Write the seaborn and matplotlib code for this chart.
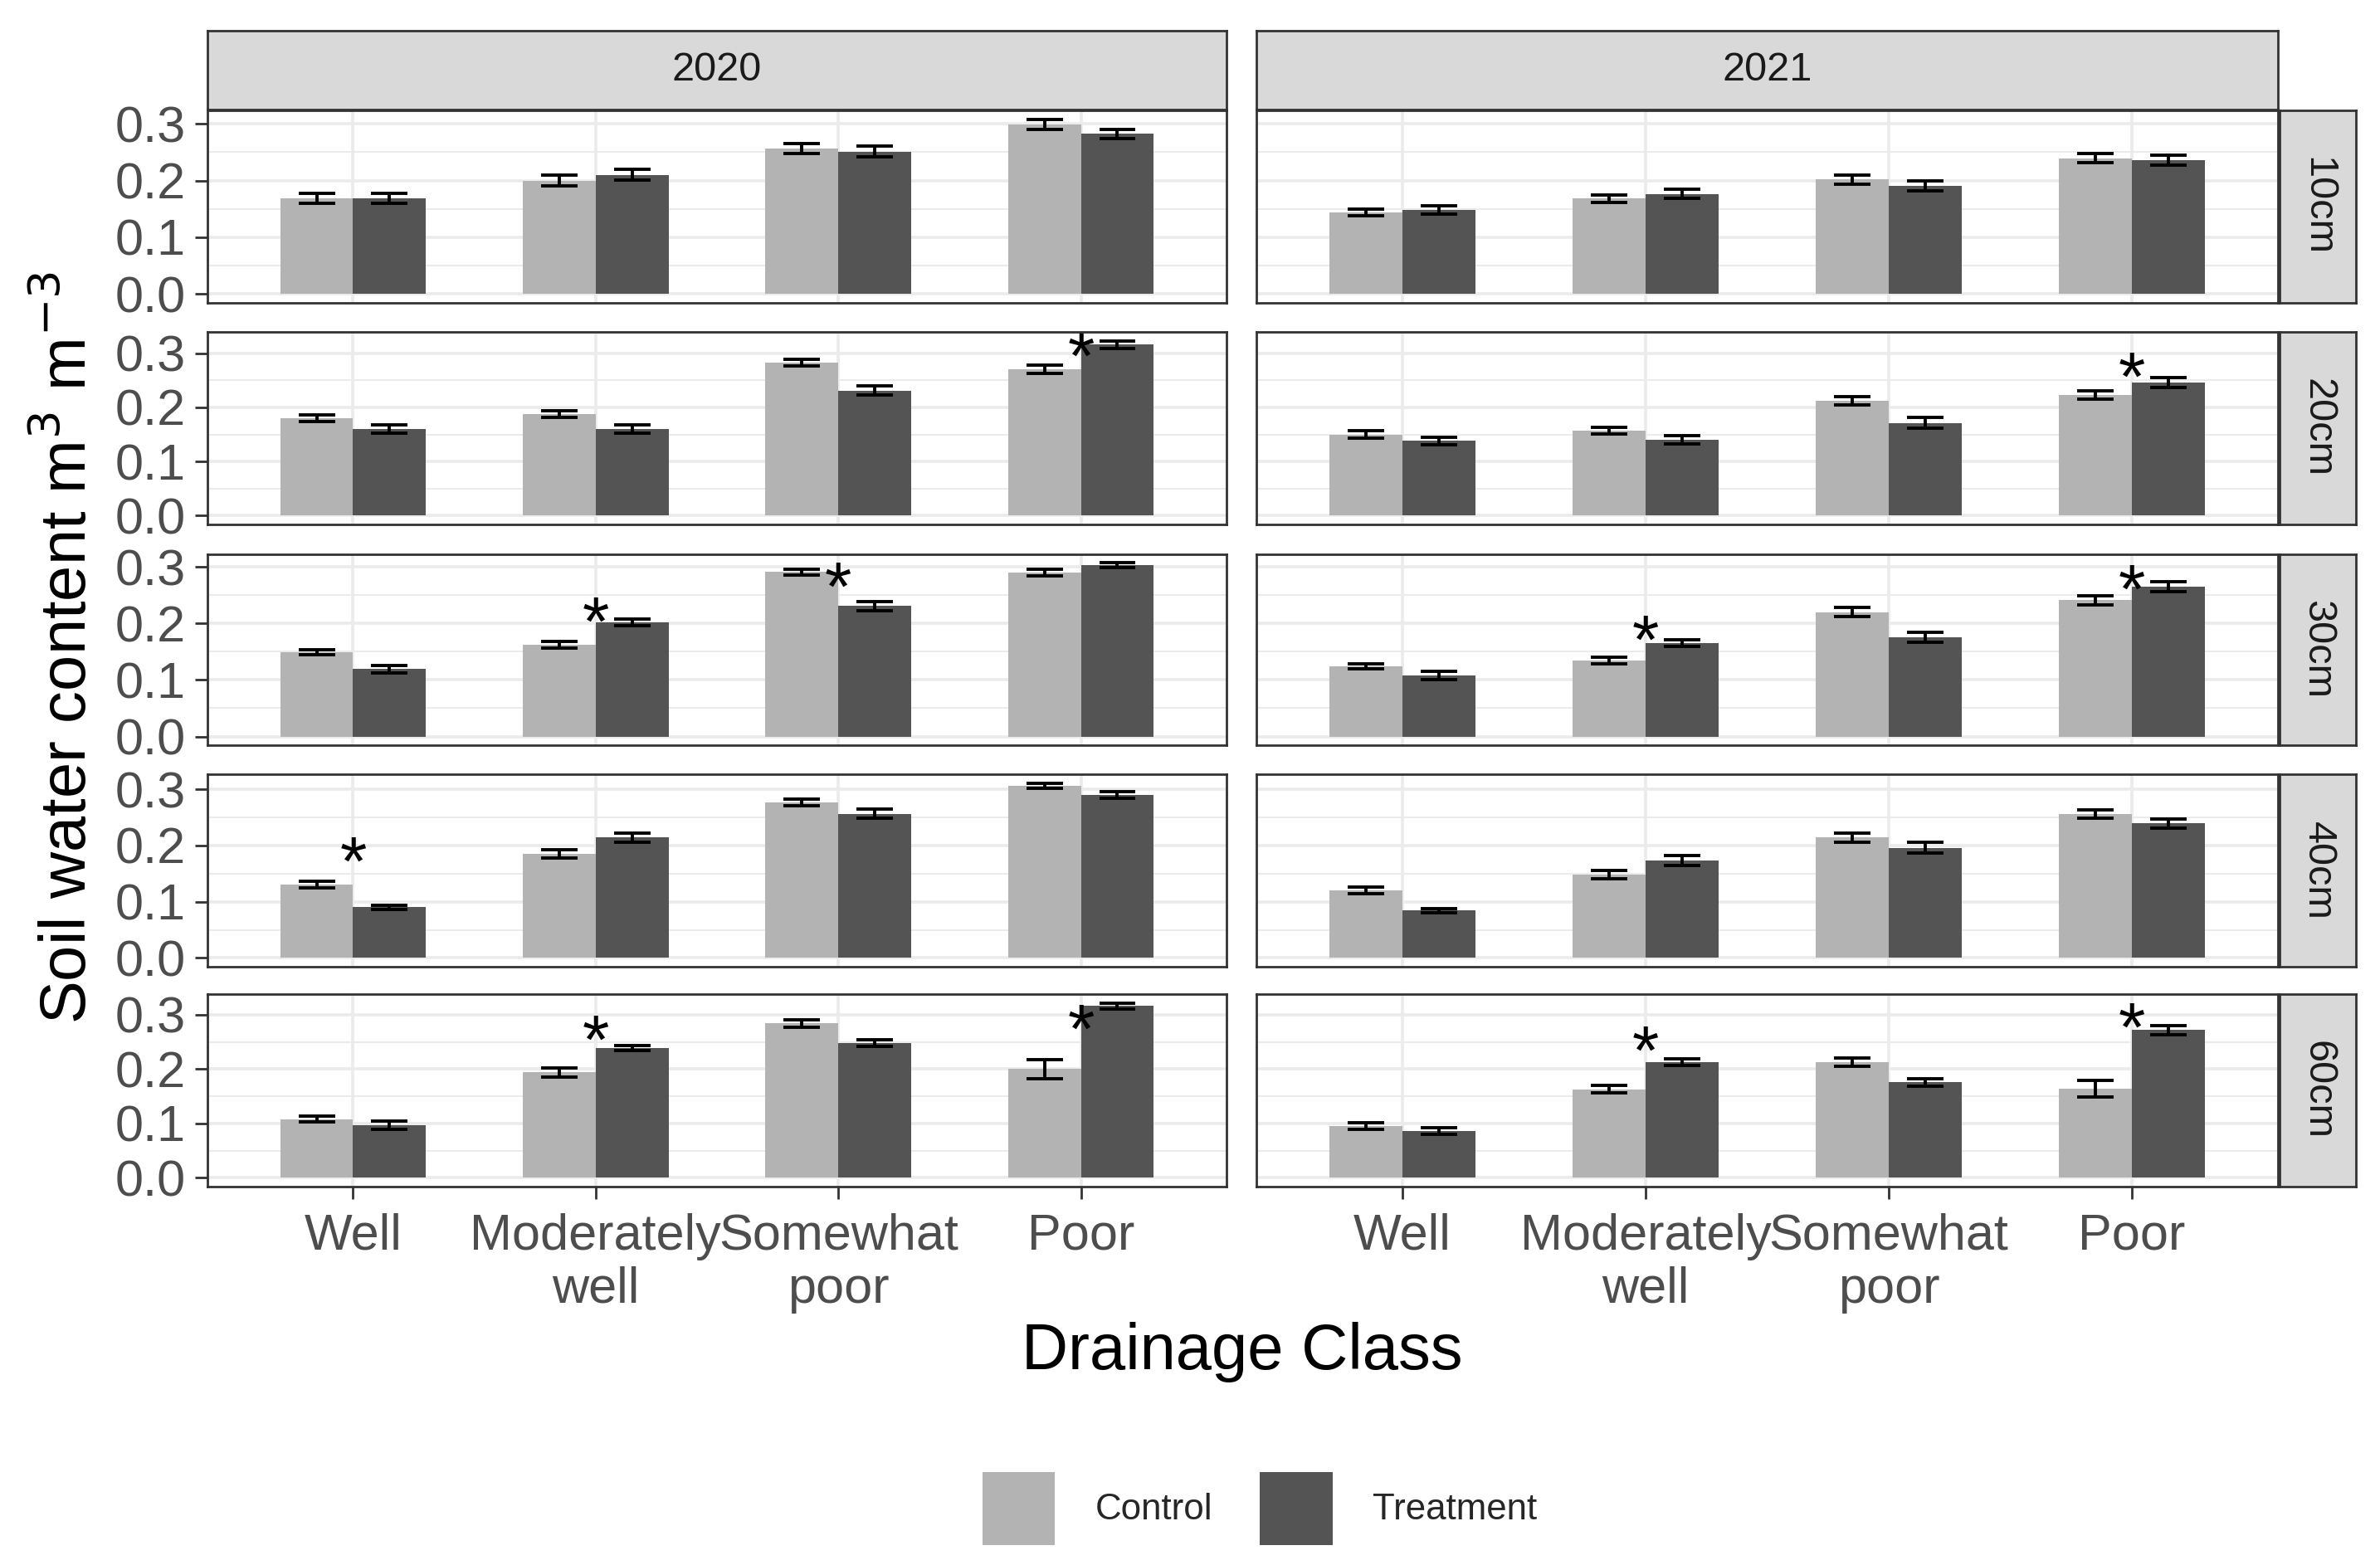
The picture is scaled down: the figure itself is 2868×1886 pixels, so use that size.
import matplotlib
matplotlib.use("Agg")
import matplotlib.pyplot as plt
from matplotlib.patches import Patch
from matplotlib.ticker import MultipleLocator
import numpy as np
import pandas as pd
import seaborn as sns

sns.set_theme(style="white")
plt.rcParams['font.family'] = ['Liberation Sans', 'DejaVu Sans']

# ---------------- data ----------------
years = ["2020", "2021"]
depths = ["10cm", "20cm", "30cm", "40cm", "60cm"]
classes = ["Well", "Moderately\nwell", "Somewhat\npoor", "Poor"]
groups = ["Control", "Treatment"]

# rows = depths, columns = drainage classes
control_2020 = [
    [0.169, 0.200, 0.256, 0.299],
    [0.180, 0.188, 0.282, 0.270],
    [0.149, 0.162, 0.291, 0.290],
    [0.131, 0.185, 0.276, 0.306],
    [0.108, 0.194, 0.284, 0.200],
]
treatment_2020 = [
    [0.169, 0.210, 0.251, 0.282],
    [0.160, 0.160, 0.231, 0.316],
    [0.119, 0.202, 0.231, 0.303],
    [0.090, 0.214, 0.256, 0.290],
    [0.097, 0.239, 0.248, 0.316],
]
control_2021 = [
    [0.144, 0.168, 0.202, 0.239],
    [0.150, 0.157, 0.212, 0.223],
    [0.124, 0.135, 0.220, 0.241],
    [0.120, 0.148, 0.214, 0.256],
    [0.095, 0.163, 0.213, 0.164],
]
treatment_2021 = [
    [0.148, 0.176, 0.191, 0.236],
    [0.138, 0.140, 0.171, 0.246],
    [0.108, 0.165, 0.176, 0.265],
    [0.084, 0.173, 0.196, 0.239],
    [0.086, 0.213, 0.176, 0.272],
]
se_control_2020 = [
    [0.009, 0.009, 0.009, 0.009],
    [0.006, 0.006, 0.006, 0.008],
    [0.005, 0.006, 0.005, 0.006],
    [0.006, 0.007, 0.006, 0.005],
    [0.005, 0.008, 0.007, 0.018],
]
se_treatment_2020 = [
    [0.009, 0.009, 0.009, 0.008],
    [0.007, 0.007, 0.009, 0.007],
    [0.006, 0.006, 0.008, 0.004],
    [0.004, 0.008, 0.008, 0.006],
    [0.007, 0.005, 0.006, 0.006],
]
se_control_2021 = [
    [0.006, 0.007, 0.008, 0.008],
    [0.007, 0.006, 0.008, 0.008],
    [0.005, 0.006, 0.008, 0.008],
    [0.006, 0.007, 0.008, 0.007],
    [0.006, 0.007, 0.008, 0.015],
]
se_treatment_2021 = [
    [0.007, 0.008, 0.009, 0.009],
    [0.007, 0.008, 0.010, 0.009],
    [0.007, 0.006, 0.009, 0.009],
    [0.004, 0.009, 0.009, 0.008],
    [0.006, 0.006, 0.007, 0.008],
]
# significance stars: (depth, class, y)
stars_2020 = [("20cm", "Poor", 0.324),
              ("30cm", "Moderately\nwell", 0.231),
              ("30cm", "Somewhat\npoor", 0.293),
              ("40cm", "Well", 0.200),
              ("60cm", "Moderately\nwell", 0.283),
              ("60cm", "Poor", 0.303)]
stars_2021 = [("20cm", "Poor", 0.286),
              ("30cm", "Moderately\nwell", 0.199),
              ("30cm", "Poor", 0.289),
              ("60cm", "Moderately\nwell", 0.263),
              ("60cm", "Poor", 0.306)]

colors = {"Control": "#B3B3B3", "Treatment": "#545454"}

# ---------------- build table ----------------
recs = []
for yr, ctrl, trt, sc, st in [("2020", control_2020, treatment_2020, se_control_2020, se_treatment_2020),
                              ("2021", control_2021, treatment_2021, se_control_2021, se_treatment_2021)]:
    for i, d in enumerate(depths):
        for j, c in enumerate(classes):
            recs.append((yr, d, c, "Control", ctrl[i][j], sc[i][j]))
            recs.append((yr, d, c, "Treatment", trt[i][j], st[i][j]))
df = pd.DataFrame(recs, columns=["Year", "Depth", "Drainage", "Group", "SWC", "SE"])
stars = {"2020": stars_2020, "2021": stars_2021}

# ---------------- layout ----------------
W, H = 2868, 1886
DPI = 200
fig = plt.figure(figsize=(W / DPI, H / DPI), dpi=DPI)


def rect(x0, y0, x1, y1):
    return [x0 / W, 1 - y1 / H, (x1 - x0) / W, (y1 - y0) / H]


col_x = [(250, 1478), (1514, 2745)]
row_y = [(133, 365), (400, 632), (668, 898), (933, 1165), (1198, 1430)]
strip_top = (37, 132)
strip_right = (2747, 2839)

border_col = "#333333"
grid_col = "#EBEBEB"
tick_col = "#4D4D4D"
strip_fill = "#D9D9D9"

for r, depth in enumerate(depths):
    sub_d = df[df.Depth == depth]
    top = float((sub_d.SWC + sub_d.SE).max())
    ylim = (-0.05 * top, 1.05 * top)
    for c, yr in enumerate(years):
        x0, x1 = col_x[c]
        y0, y1 = row_y[r]
        ax = fig.add_axes(rect(x0, y0, x1, y1))
        sub = sub_d[sub_d.Year == yr]
        sns.barplot(data=sub, x="Drainage", y="SWC", hue="Group", order=classes,
                    hue_order=groups, palette=colors, width=0.6, errorbar=None,
                    saturation=1, linewidth=0, legend=False, ax=ax, zorder=2)
        for g, cont in zip(groups, ax.containers):
            ses = sub[sub.Group == g].set_index("Drainage").loc[classes, "SE"].values
            xs = [b.get_x() + b.get_width() / 2 for b in cont]
            hs = [b.get_height() for b in cont]
            capw = cont[0].get_width() / 2
            for xx, hh, ee in zip(xs, hs, ses):
                ax.plot([xx, xx], [hh - ee, hh + ee], color="black", lw=1.4, zorder=3,
                        solid_capstyle="butt")
                for yy in (hh - ee, hh + ee):
                    ax.plot([xx - capw / 2, xx + capw / 2], [yy, yy], color="black",
                            lw=1.4, zorder=3, solid_capstyle="butt")
        for (dd, cl, sy) in stars[yr]:
            if dd == depth:
                ax.annotate("*", xy=(classes.index(cl), sy), xytext=(0, -0.57 * 30),
                            textcoords="offset points", ha="center", va="baseline",
                            fontsize=30, color="black", zorder=4)
        ax.set_xlim(-0.6, 3.6)
        ax.set_ylim(*ylim)
        ax.set_xlabel("")
        ax.set_ylabel("")
        ax.yaxis.set_major_locator(MultipleLocator(0.1))
        ax.yaxis.set_minor_locator(MultipleLocator(0.05))
        ax.set_axisbelow(True)
        ax.grid(which="major", color=grid_col, lw=1.3, zorder=0)
        ax.grid(which="minor", axis="y", color=grid_col, lw=0.7, zorder=0)
        for sp in ax.spines.values():
            sp.set_color(border_col)
            sp.set_linewidth(1.0)
            sp.set_zorder(5)
        ax.tick_params(which="major", length=5.5, width=1.0, color=border_col,
                       labelsize=22, labelcolor=tick_col, pad=4)
        ax.tick_params(which="minor", length=0)
        ax.tick_params(axis="x", pad=6)
        ax.tick_params(axis="y", left=(c == 0), labelleft=(c == 0))
        ax.tick_params(axis="x", bottom=(r == len(depths) - 1),
                       labelbottom=(r == len(depths) - 1))
        if c == 0:
            ax.set_yticks([0.0, 0.1, 0.2, 0.3])
            ax.set_yticklabels(["0.0", "0.1", "0.2", "0.3"])
        if r == len(depths) - 1:
            ax.set_xticks(range(len(classes)))
            ax.set_xticklabels(classes, linespacing=1.15)
            for lab in ax.get_xticklabels():
                lab.set_verticalalignment("top")

# top strips
for c, yr in enumerate(years):
    x0, x1 = col_x[c]
    sax = fig.add_axes(rect(x0, strip_top[0], x1, strip_top[1]))
    sax.set_facecolor(strip_fill)
    sax.set_xticks([]); sax.set_yticks([])
    for sp in sax.spines.values():
        sp.set_color(border_col); sp.set_linewidth(1.0)
    sax.text(0.5, 0.5, yr, ha="center", va="center", fontsize=17.5,
             color="#1A1A1A", transform=sax.transAxes)

# right strips
for r, depth in enumerate(depths):
    y0, y1 = row_y[r]
    sax = fig.add_axes(rect(strip_right[0], y0, strip_right[1], y1))
    sax.set_facecolor(strip_fill)
    sax.set_xticks([]); sax.set_yticks([])
    for sp in sax.spines.values():
        sp.set_color(border_col); sp.set_linewidth(1.0)
    sax.text(0.5, 0.5, depth, ha="center", va="center", fontsize=17.5,
             color="#1A1A1A", rotation=270, transform=sax.transAxes)

# axis titles
fig.text(82 / W, 1 - 781 / H, r"Soil water content m$^{3}$ m$^{-3}$", rotation=90,
         ha="center", va="center", fontsize=28, color="black")
fig.text(1497 / W, 1 - 1630 / H, "Drainage Class", ha="center", va="center",
         fontsize=28, color="black")

# legend
handles = [Patch(facecolor=colors[g], edgecolor="none", label=g) for g in groups]
fig.legend(handles=handles, loc="center", bbox_to_anchor=(1518 / W, 1 - 1818 / H),
           ncol=2, frameon=False, fontsize=15.8, handlelength=2.0, handleheight=2.7,
           handletextpad=1.1, columnspacing=1.3, borderaxespad=0)

fig.savefig("out.png", dpi=DPI)
